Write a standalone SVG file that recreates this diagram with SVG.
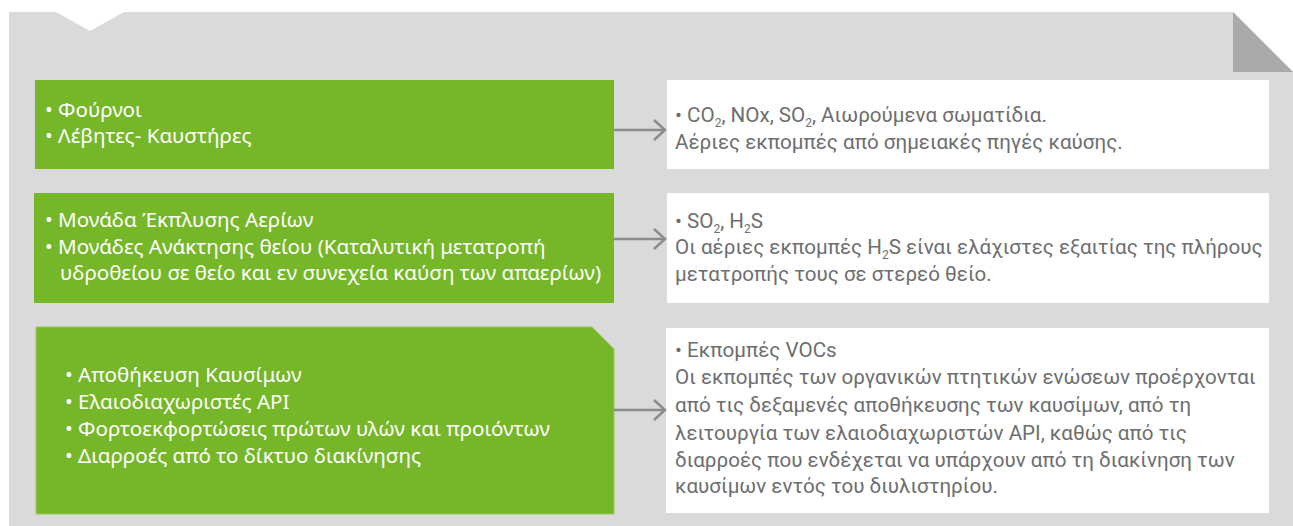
<svg xmlns="http://www.w3.org/2000/svg" width="1293" height="526" viewBox="0 0 1293 526">
  <defs>
    <style>
      .bg { fill: #d9dad9; }
      .fold { fill: #a9aaa9; }
      .green { fill: #76b729; }
      .white { fill: #ffffff; }
      .gt { font-family: "Noto Sans", "Open Sans", sans-serif; font-size: 20.6px; fill: #ffffff; }
      .wt { font-family: Roboto, "Noto Sans", sans-serif; font-size: 20.6px; fill: #6d6e70; }
      .sub { font-size: 12px; }
      .conn { stroke: #8c8c8c; stroke-width: 2.5; fill: none; }
    </style>
    <marker id="chev" markerUnits="userSpaceOnUse" markerWidth="16" markerHeight="24" viewBox="-14 -12 16 24" refX="0" refY="0" orient="auto">
      <polyline points="-11,-10 0,0 -11,10" fill="none" stroke="#8c8c8c" stroke-width="2.5"/>
    </marker>
  </defs>

  <g id="background">
    <polygon class="bg" points="9,12 56,12 90,31 124,12 1233,12 1293,72 1293,526 9,526"/>
    <polygon class="fold" points="1233,12 1293,72 1233,72"/>
  </g>

  <g id="source1">
    <rect class="green" x="35" y="80" width="579" height="89"/>
    <text class="gt"><tspan x="45" y="117">• Φούρνοι</tspan><tspan x="45" y="143">• Λέβητες- Καυστήρες</tspan></text>
  </g>

  <g id="source2">
    <rect class="green" x="34" y="193" width="580" height="110"/>
    <text class="gt"><tspan x="45" y="227">• Μονάδα Έκπλυσης Αερίων</tspan><tspan x="45" y="254">• Μονάδες Ανάκτησης θείου (Καταλυτική μετατροπή</tspan><tspan x="60" y="280">υδροθείου σε θείο και εν συνεχεία καύση των απαερίων)</tspan></text>
  </g>

  <g id="source3">
    <polygon class="green" points="36,327 592,327 614,349 614,514 36,514" stroke="#98c85e" stroke-width="1"/>
    <text class="gt"><tspan x="65" y="382">• Αποθήκευση Καυσίμων</tspan><tspan x="65" y="409">• Ελαιοδιαχωριστές API</tspan><tspan x="65" y="436">• Φορτοεκφορτώσεις πρώτων υλών και προιόντων</tspan><tspan x="65" y="463">• Διαρροές από το δίκτυο διακίνησης</tspan></text>
  </g>

  <g id="emission1">
    <rect class="white" x="667" y="80" width="602" height="89"/>
    <text class="wt"><tspan x="675" y="122">• CO</tspan><tspan class="sub" dy="5">2</tspan><tspan dy="-5">, NOx, SO</tspan><tspan class="sub" dy="5">2</tspan><tspan dy="-5">, Αιωρούμενα σωματίδια.</tspan><tspan x="675" y="149">Αέριες εκπομπές από σημειακές πηγές καύσης.</tspan></text>
  </g>

  <g id="emission2">
    <rect class="white" x="667" y="193" width="602" height="110"/>
    <text class="wt"><tspan x="675" y="228">• SO</tspan><tspan class="sub" dy="5">2</tspan><tspan dy="-5">, H</tspan><tspan class="sub" dy="5">2</tspan><tspan dy="-5">S</tspan><tspan x="675" y="254">Οι αέριες εκπομπές H</tspan><tspan class="sub" dy="5">2</tspan><tspan dy="-5">S είναι ελάχιστες εξαιτίας της πλήρους</tspan><tspan x="675" y="281">μετατροπής τους σε στερεό θείο.</tspan></text>
  </g>

  <g id="emission3">
    <rect class="white" x="666" y="328" width="603" height="185"/>
    <text class="wt"><tspan x="675" y="357">• Εκπομπές VOCs</tspan><tspan x="675" y="384">Οι εκπομπές των οργανικών πτητικών ενώσεων προέρχονται</tspan><tspan x="675" y="412">από τις δεξαμενές αποθήκευσης των καυσίμων, από τη</tspan><tspan x="675" y="440">λειτουργία των ελαιοδιαχωριστών API, καθώς από τις</tspan><tspan x="675" y="467">διαρροές που ενδέχεται να υπάρχουν από τη διακίνηση των</tspan><tspan x="675" y="493">καυσίμων εντός του διυλιστηρίου.</tspan></text>
  </g>

  <g id="connectors">
    <line class="conn" x1="614" y1="130" x2="665" y2="130" marker-end="url(#chev)"/>
    <line class="conn" x1="614" y1="239" x2="665" y2="239" marker-end="url(#chev)"/>
    <line class="conn" x1="614" y1="410" x2="665" y2="410" marker-end="url(#chev)"/>
  </g>
</svg>
